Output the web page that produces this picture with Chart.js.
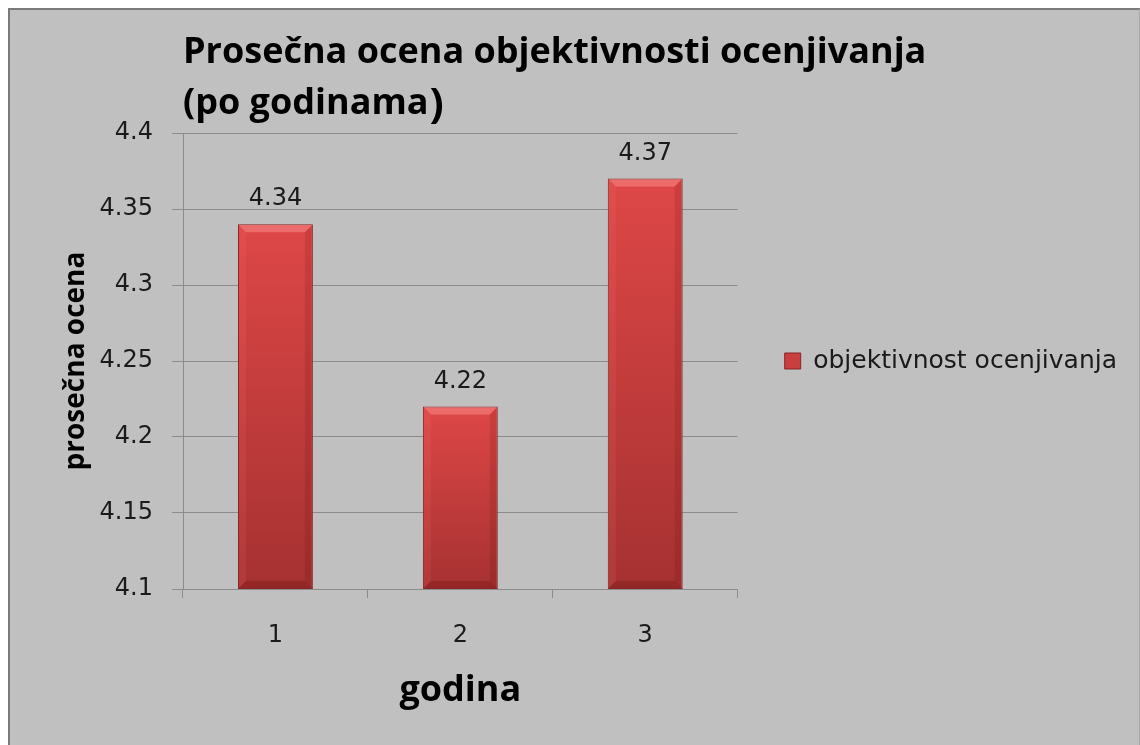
<!DOCTYPE html>
<html><head><meta charset="utf-8">
<script src="https://cdn.jsdelivr.net/npm/chart.js@4/dist/chart.umd.min.js"></script>
<style>html,body{margin:0;padding:0;background:#fff;} #wrap{width:1140px;height:745px;}</style>
</head><body><div id="wrap"><canvas id="c" width="1140" height="745"></canvas></div>
<script>
const categories = ['1', '2', '3'];
const seriesName = 'objektivnost ocenjivanja';
const values = [4.34, 4.22, 4.37];
const yTicks = [4.1, 4.15, 4.2, 4.25, 4.3, 4.35, 4.4];
const titleLines = ['Prosečna ocena objektivnosti ocenjivanja', '(po godinama)'];
const yTitle = 'prosečna ocena';
const xTitle = 'godina';

const GRID = '#8c8c8c';
const TXT = '#1a1a1a';
const TITLE_FONT = '"Open Sans"';

const bgPlugin = {
  id: 'bg',
  beforeDraw(chart) {
    const ctx = chart.ctx, W = chart.width, H = chart.height;
    ctx.save();
    ctx.fillStyle = '#ffffff';
    ctx.fillRect(0, 0, W, H);
    ctx.fillStyle = '#c0c0c0';
    ctx.fillRect(8, 8, W - 8, H - 8);
    ctx.strokeStyle = '#7a7a7a';
    ctx.lineWidth = 2;
    ctx.beginPath();
    ctx.moveTo(9, H); ctx.lineTo(9, 9); ctx.lineTo(W, 9);
    ctx.stroke();
    ctx.strokeStyle = '#a8a8a8';
    ctx.lineWidth = 1;
    ctx.beginPath();
    ctx.moveTo(W - 0.5, 9); ctx.lineTo(W - 0.5, H);
    ctx.stroke();
    ctx.restore();
  }
};

const titlePlugin = {
  id: 'mainTitle',
  afterDraw(chart) {
    const ctx = chart.ctx, left = chart.chartArea.left;
    ctx.save();
    ctx.fillStyle = '#000';
    ctx.textBaseline = 'alphabetic';
    ctx.textAlign = 'left';
    ctx.font = 'bold 36px ' + TITLE_FONT;
    ctx.fillText(titleLines[0], left, 63);
    const l2 = titleLines[1];
    const body = l2.slice(0, -1), last = l2.slice(-1);
    ctx.fillText(body, left, 114);
    const w = ctx.measureText(body).width;
    ctx.font = 'bold 42px ' + TITLE_FONT;
    ctx.fillText(last, left + w + 1, 118);
    ctx.restore();
  }
};

const bevelPlugin = {
  id: 'bevel',
  afterDatasetsDraw(chart) {
    const meta = chart.getDatasetMeta(0), ctx = chart.ctx;
    const area = chart.chartArea;
    ctx.save();
    meta.data.forEach(bar => {
      const p = bar.getProps(['x', 'y', 'base', 'width'], true);
      const l = p.x - p.width / 2 + 1, r = p.x + p.width / 2 - 1, t = p.y + 1;
      const b = Math.min(p.base, area.bottom) - 1, d = 7;
      ctx.fillStyle = 'rgba(255,150,150,0.45)';
      ctx.beginPath(); ctx.moveTo(l, t); ctx.lineTo(r, t); ctx.lineTo(r - d, t + d); ctx.lineTo(l + d, t + d); ctx.closePath(); ctx.fill();
      ctx.fillStyle = 'rgba(80,0,0,0.22)';
      ctx.beginPath(); ctx.moveTo(l, b); ctx.lineTo(r, b); ctx.lineTo(r - d, b - d); ctx.lineTo(l + d, b - d); ctx.closePath(); ctx.fill();
      ctx.fillStyle = 'rgba(80,0,0,0.12)';
      ctx.beginPath(); ctx.moveTo(r, t); ctx.lineTo(r, b); ctx.lineTo(r - d, b - d); ctx.lineTo(r - d, t + d); ctx.closePath(); ctx.fill();
      ctx.fillStyle = 'rgba(255,120,120,0.12)';
      ctx.beginPath(); ctx.moveTo(l, t); ctx.lineTo(l, b); ctx.lineTo(l + d, b - d); ctx.lineTo(l + d, t + d); ctx.closePath(); ctx.fill();
      ctx.strokeStyle = '#8a2525';
      ctx.lineWidth = 1;
      ctx.beginPath(); ctx.moveTo(l - 0.5, b + 0.5); ctx.lineTo(r + 0.5, b + 0.5); ctx.stroke();
    });
    ctx.restore();
  }
};

const labelPlugin = {
  id: 'valueLabels',
  afterDatasetsDraw(chart) {
    const meta = chart.getDatasetMeta(0), ctx = chart.ctx;
    ctx.save();
    ctx.font = '24px "DejaVu Sans"';
    ctx.fillStyle = TXT;
    ctx.textAlign = 'center';
    ctx.textBaseline = 'alphabetic';
    meta.data.forEach((bar, i) => {
      ctx.fillText(String(values[i]), bar.x, bar.y - 19);
    });
    ctx.restore();
  }
};

function barFill(c) {
  const chart = c.chart;
  if (!chart.chartArea || c.type !== 'data') return '#c23a3a';
  const ys = chart.scales.y;
  const top = ys.getPixelForValue(c.raw);
  const bot = ys.getPixelForValue(ys.min);
  const g = chart.ctx.createLinearGradient(0, top, 0, bot);
  g.addColorStop(0, '#de4747');
  g.addColorStop(1, '#a63131');
  return g;
}

new Chart(document.getElementById('c'), {
  type: 'bar',
  data: {
    labels: categories,
    datasets: [{
      label: seriesName,
      data: values,
      backgroundColor: barFill,
      borderColor: '#8a2525',
      borderWidth: 1,
      barPercentage: 0.405,
      categoryPercentage: 1.0
    }]
  },
  options: {
    responsive: false,
    animation: false,
    devicePixelRatio: 1,
    layout: { padding: { left: 8, right: 13, top: 133, bottom: 0 } },
    plugins: {
      tooltip: { enabled: false },
      title: { display: false },
      legend: {
        position: 'right',
        fullSize: false,
        maxWidth: 700,
        labels: {
          boxWidth: 16, boxHeight: 16, padding: 47,
          font: { family: 'DejaVu Sans', size: 25 },
          color: TXT
        }
      }
    },
    scales: {
      x: {
        offset: true,
        grid: { display: true, drawOnChartArea: false, drawTicks: true, tickLength: 9, color: GRID, offset: true },
        border: { display: true, color: GRID },
        ticks: { font: { family: 'DejaVu Sans', size: 24 }, color: TXT, padding: 23 },
        title: { display: true, text: xTitle, font: { family: 'Open Sans', weight: 'bold', size: 36 }, color: '#000', padding: { top: 0, bottom: 33 } },
        afterFit(s) { s.height = 156; }
      },
      y: {
        min: 4.1, max: 4.4,
        afterBuildTicks(s) { s.ticks = yTicks.map(v => ({ value: v })); },
        grid: { color: GRID, tickLength: 11, drawTicks: true },
        border: { display: true, color: GRID },
        ticks: { font: { family: 'DejaVu Sans', size: 24 }, color: TXT, padding: 19, callback: (v) => String(v) },
        title: { display: true, text: yTitle, font: { family: 'Open Sans', weight: 'bold', size: 28 }, color: '#000', padding: { top: 51, bottom: 0 } },
        afterFit(s) { s.width = 175; }
      }
    }
  },
  plugins: [bgPlugin, bevelPlugin, labelPlugin, titlePlugin]
});
</script>
</body></html>
